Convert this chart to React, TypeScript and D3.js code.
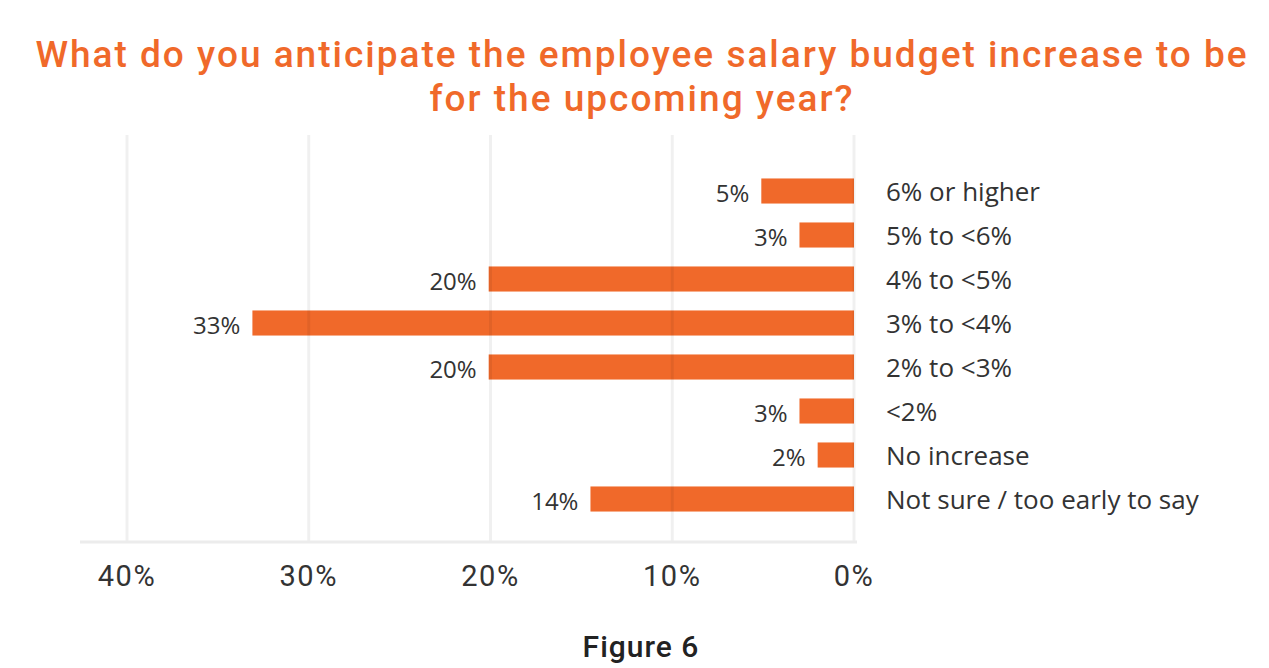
import React from "react";
import * as d3 from "d3";

const categories = [
  "6% or higher",
  "5% to <6%",
  "4% to <5%",
  "3% to <4%",
  "2% to <3%",
  "<2%",
  "No increase",
  "Not sure / too early to say",
];
const values = [5.1, 3.0, 20.1, 33.1, 20.1, 3.0, 2.0, 14.5];
const valueLabels = ["5%", "3%", "20%", "33%", "20%", "3%", "2%", "14%"];
const ticks = [0, 10, 20, 30, 40];

const W = 1269;
const H = 668;
const ORANGE = "#f0692a";

export default function App() {
  const x = d3.scaleLinear().domain([0, 40]).range([854, 127]);
  const y = d3
    .scaleBand<string>()
    .domain(categories)
    .range([169, 521])
    .paddingInner(0.43)
    .paddingOuter(0.215);
  const bh = y.bandwidth();
  const titleFont = "Roboto, 'DejaVu Sans Condensed', sans-serif";
  const bodyFont = "'Open Sans', 'Noto Sans', sans-serif";

  return (
    <svg width={W} height={H} style={{ position: "absolute", left: 0, top: 0, background: "#fff" }}>
      <text x={642} y={67} textAnchor="middle" fill={ORANGE} fontFamily={titleFont} fontSize={37} fontWeight={500} letterSpacing={2}>
        What do you anticipate the employee salary budget increase to be
      </text>
      <text x={642} y={111} textAnchor="middle" fill={ORANGE} fontFamily={titleFont} fontSize={37} fontWeight={500} letterSpacing={2}>
        for the upcoming year?
      </text>

      {categories.map((c, i) => (
        <rect key={c} x={x(values[i])} y={y(c)!} width={x(0) - x(values[i])} height={bh} fill={ORANGE} />
      ))}

      {ticks.map((t) => (
        <line key={t} x1={x(t)} x2={x(t)} y1={135} y2={541} stroke="#000" strokeOpacity={0.06} strokeWidth={3} />
      ))}
      <line x1={80} x2={857} y1={542} y2={542} stroke="#ececec" strokeWidth={3} />

      {categories.map((c, i) => (
        <text
          key={"v" + c}
          x={x(values[i]) - 12}
          y={y(c)! + bh / 2}
          dy="0.45em"
          textAnchor="end"
          fill="#333"
          fontFamily={bodyFont}
          fontSize={24}
        >
          {valueLabels[i]}
        </text>
      ))}
      {categories.map((c) => (
        <text
          key={"c" + c}
          x={886}
          y={y(c)! + bh / 2}
          dy="0.38em"
          fill="#333"
          fontFamily={bodyFont}
          fontSize={26}
        >
          {c}
        </text>
      ))}

      {ticks.map((t) => (
        <text key={"t" + t} x={x(t)} y={586} textAnchor="middle" fill="#333" fontFamily={titleFont} fontSize={29} letterSpacing={1.5}>
          {t}%
        </text>
      ))}

      <text x={641} y={657} textAnchor="middle" fill="#222" fontFamily={titleFont} fontSize={30} fontWeight={500} letterSpacing={1}>
        Figure 6
      </text>
    </svg>
  );
}
